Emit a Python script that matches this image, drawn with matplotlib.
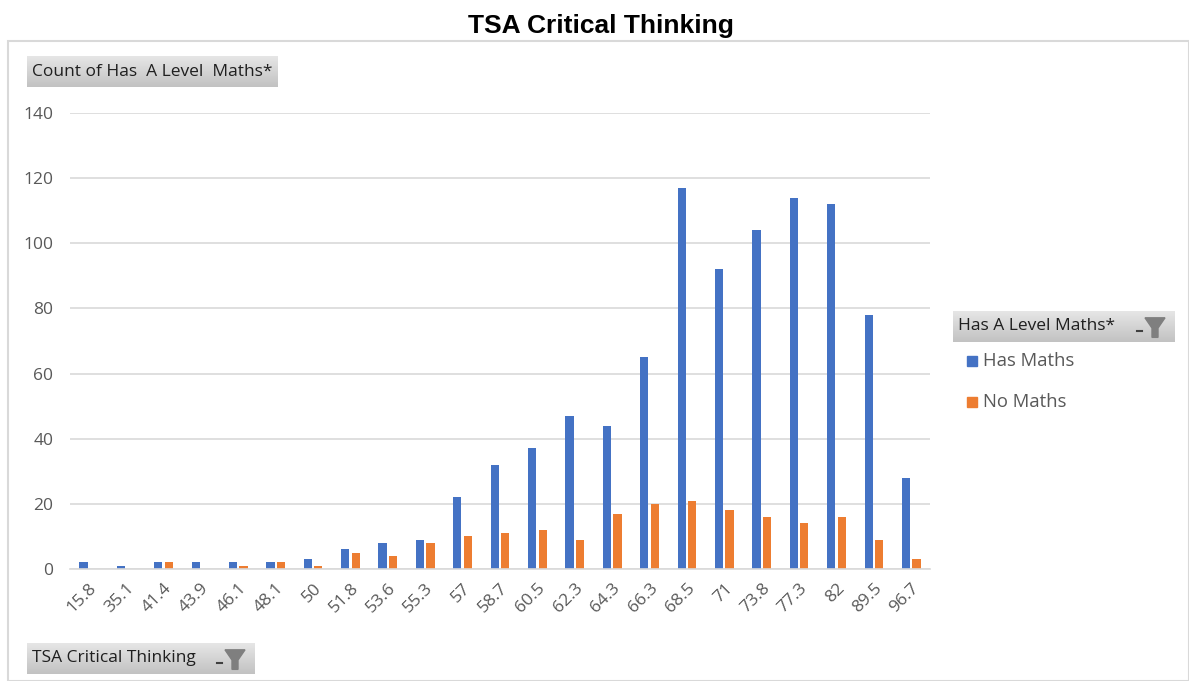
import matplotlib.pyplot as plt
import matplotlib.patches as mpatches
import numpy as np

# TSA Critical Thinking score bins
scores = ["15.8", "35.1", "41.4", "43.9", "46.1", "48.1", "50", "51.8", "53.6", "55.3",
          "57", "58.7", "60.5", "62.3", "64.3", "66.3", "68.5", "71", "73.8", "77.3",
          "82", "89.5", "96.7"]
has_maths = [2, 1, 2, 2, 2, 2, 3, 6, 8, 9, 22, 32, 37, 47, 44, 65, 117, 92, 104, 114, 112, 78, 28]
no_maths = [0, 0, 2, 0, 1, 2, 1, 5, 4, 8, 10, 11, 12, 9, 17, 20, 21, 18, 16, 14, 16, 9, 3]

BLUE = "#4472c4"
ORANGE = "#ed7d31"
GREY_TXT = "#595959"
FONT = "Open Sans"

W, H = 1189, 681
fig = plt.figure(figsize=(W / 100, H / 100), dpi=100)


def px(x0, y0, x1, y1):
    # pixel box (top-left origin) -> figure rect
    return [x0 / W, 1 - y1 / H, (x1 - x0) / W, (y1 - y0) / H]


# outer frame
frame = mpatches.Rectangle((8 / W, 0), 1 - 8 / W, 1 - 41 / H, transform=fig.transFigure,
                           fill=False, edgecolor="#d9d9d9", lw=1.5)
fig.patches.append(frame)

fig.text(601 / W, 1 - 26 / H, "TSA Critical Thinking", ha="center", va="center",
         fontsize=19, fontweight="bold", family="Liberation Sans")

ax = fig.add_axes(px(70, 113, 930, 569))
x = np.arange(len(scores))
bw = 0.22
ax.bar(x - 0.14, has_maths, bw, color=BLUE, label="Has Maths")
ax.bar(x + 0.14, no_maths, bw, color=ORANGE, label="No Maths")
ax.set_xlim(-0.5, len(scores) - 0.5)
ax.set_ylim(0, 140)
ax.set_yticks(range(0, 141, 20))
ax.yaxis.grid(True, color="#d9d9d9", lw=1.2)
ax.set_axisbelow(True)
for s in ["top", "right", "left"]:
    ax.spines[s].set_visible(False)
ax.spines["bottom"].set_color("#d9d9d9")
ax.spines["bottom"].set_linewidth(1.2)
ax.tick_params(length=0, colors=GREY_TXT, labelsize=12.5, pad=8)
ax.set_xticks(x)
ax.set_xticklabels(scores, rotation=45, ha="right", rotation_mode="anchor", family=FONT)
for t in ax.get_yticklabels():
    t.set_family(FONT)
ax.tick_params(axis="y", pad=12)


def button(x0, y0, x1, y1, label, funnel=False):
    bax = fig.add_axes(px(x0, y0, x1, y1))
    grad = np.linspace(0.9, 0.76, 50).reshape(-1, 1)
    bax.imshow(grad, aspect="auto", cmap="gray", vmin=0, vmax=1, extent=[0, 1, 0, 1])
    bax.set_xlim(0, 1)
    bax.set_ylim(0, 1)
    bax.axis("off")
    bax.text(5 / (x1 - x0), 0.5, label, va="center", ha="left", fontsize=12.5,
             color="#1f1f1f", family=FONT)
    if funnel:
        fx = 1 - 20 / (x1 - x0)
        fw = 10 / (x1 - x0)
        tri = mpatches.Polygon([[fx - fw, 0.78], [fx + fw, 0.78], [fx + fw * 0.3, 0.45],
                                [fx + fw * 0.3, 0.15], [fx - fw * 0.3, 0.15],
                                [fx - fw * 0.3, 0.45]], color="#7f7f7f")
        bax.add_patch(tri)
        bax.plot([fx - fw * 1.8, fx - fw * 1.3], [0.35, 0.35], color="#404040", lw=1.5)


button(27, 56, 278, 87, "Count of Has  A Level  Maths*")
button(953, 311, 1175, 342, "Has A Level Maths*", funnel=True)
button(27, 643, 255, 674, "TSA Critical Thinking", funnel=True)

# legend entries
for yy, col, lab in [(361, BLUE, "Has Maths"), (402, ORANGE, "No Maths")]:
    sq = mpatches.Rectangle((967 / W, 1 - (yy + 5) / H), 10 / W, 10 / H,
                            transform=fig.transFigure, color=col)
    fig.patches.append(sq)
    fig.text(983 / W, 1 - yy / H, lab, ha="left", va="center", fontsize=13.3,
             color=GREY_TXT, family=FONT)

fig.savefig("out.png", dpi=100)
